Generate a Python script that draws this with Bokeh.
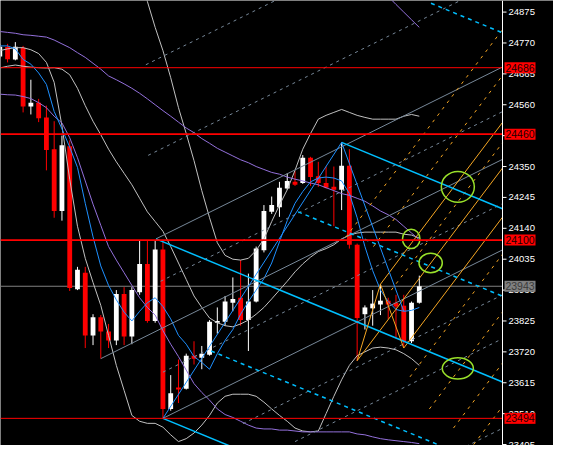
from bokeh.plotting import figure
from bokeh.models import Range1d, ColumnDataSource
from bokeh.core.properties import value
from bokeh.embed import file_html
from bokeh.resources import INLINE

# ---------------- data ----------------
bars = list(range(-1, 54))
opens = [24724, 24756, 24714, 24754, 24554, 24567, 24517, 24409, 24199, 24419,
         23933, 23989, 23776, 23838, 23789, 23759, 23917, 23772, 23923, 24019,
         23825, 24068, 23526, 23599, 23595, 23707, 23700, 23710, 23819, 23822,
         23887, 23904, 23828, 23891, 24065, 24196, 24212, 24275, 24298, 24294,
         24380, 24317, 24294, 24281, 24271, 24353, 24084, 23848, 23868, 23881,
         23894, 23887, 23877, 23756, 23887]
highs = [24767, 24767, 24773, 24760, 24645, 24580, 24557, 24504, 24455, 24439,
         24009, 24009, 23848, 23845, 23815, 23930, 23940, 23940, 24097, 24097,
         24097, 24101, 23641, 23694, 23714, 23756, 23740, 23828, 23871, 23910,
         23973, 24032, 23986, 24078, 24219, 24248, 24298, 24327, 24334, 24389,
         24383, 24366, 24350, 24350, 24432, 24409, 24088, 23878, 23930, 23950,
         23904, 23914, 23914, 23891, 23979]
lows = [24718, 24704, 24711, 24534, 24527, 24501, 24337, 24176, 24166, 23927,
        23930, 23733, 23743, 23697, 23733, 23743, 23743, 23746, 23914, 23819,
        23819, 23494, 23520, 23546, 23592, 23677, 23661, 23707, 23782, 23809,
        23858, 23809, 23723, 23888, 24058, 24189, 24179, 24271, 24284, 24291,
        24284, 24281, 24275, 24147, 24202, 24071, 23690, 23796, 23809, 23845,
        23832, 23766, 23733, 23750, 23884]
closes = [24757, 24715, 24757, 24554, 24567, 24514, 24406, 24199, 24422, 23937,
          23999, 23776, 23838, 23789, 23759, 23917, 23772, 23930, 24019, 23825,
          24068, 23526, 23579, 23592, 23707, 23697, 23714, 23822, 23825, 23891,
          23900, 23828, 23891, 24071, 24199, 24219, 24278, 24301, 24288, 24380,
          24314, 24294, 24278, 24271, 24353, 24084, 23835, 23871, 23884, 23894,
          23881, 23874, 23756, 23887, 23943]

ma_fast = [24760, 24760, 24750, 24714, 24698, 24668, 24629, 24537, 24478, 24416,
           24347, 24225, 24111, 24012, 23946, 23897, 23855, 23825, 23858, 23887,
           23904, 23874, 23832, 23776, 23746, 23704, 23684, 23661, 23714, 23759,
           23796, 23848, 23891, 23930, 23969, 24022, 24094, 24166, 24225, 24265,
           24298, 24311, 24314, 24311, 24301, 24258, 24176, 24078, 23996, 23930,
           23891, 23864, 23858, 23861, 23871]
purple_mid = [24809, 24806, 24803, 24798, 24796, 24793, 24790, 24780, 24767, 24754,
              24737, 24721, 24701, 24681, 24658, 24645, 24631, 24616, 24599, 24580,
              24560, 24540, 24521, 24501, 24481, 24465, 24445, 24429, 24412, 24399,
              24386, 24373, 24363, 24350, 24340, 24330, 24324, 24314, 24307, 24301,
              24294, 24288, 24278, 24268, 24258, 24252, 24242, 24232, 24216, 24199,
              24186, 24170, 24147, 24124, 24101]
purple_low = [24596, 24594, 24593, 24588, 24581, 24567, 24550, 24521, 24498, 24448,
              24380, 24301, 24222, 24150, 24078, 24032, 23989, 23946, 23904, 23871,
              23845, 23792, 23746, 23704, 23658, 23612, 23582, 23556, 23526, 23507,
              23497, 23484, 23471, 23461, 23458, 23458, 23454, 23454, 23451, 23448,
              23448, 23448, 23448, 23448, 23448, 23448, 23441, 23438, 23431, 23425,
              23421, 23418, 23415, 23412, 23408]
purple_up_bars = list(range(47, 54))
purple_up = [24980, 24954, 24928, 24901, 24875, 24849, 24823]
silver_mid = [24685, 24691, 24695, 24691, 24688, 24686, 24685, 24686, 24681, 24662,
              24616, 24557, 24504, 24458, 24409, 24366, 24327, 24288, 24242, 24196,
              24163, 24130, 24078, 24022, 23966, 23910, 23871, 23835, 23819, 23809,
              23805, 23815, 23828, 23848, 23871, 23900, 23930, 23960, 23992, 24019,
              24042, 24061, 24071, 24084, 24104, 24117, 24124, 24127, 24127, 24127,
              24127, 24127, 24120, 24117, 24107]
silver_low = [24744, 24750, 24754, 24754, 24747, 24734, 24704, 24636, 24488, 24307,
              24147, 24038, 23956, 23878, 23776, 23674, 23589, 23504, 23484, 23477,
              23477, 23464, 23438, 23415, 23425, 23444, 23471, 23504, 23546, 23569,
              23576, 23576, 23576, 23569, 23549, 23526, 23504, 23484, 23461, 23451,
              23448, 23451, 23510, 23569, 23625, 23674, 23707, 23720, 23733, 23736,
              23733, 23727, 23714, 23697, 23674]
silver_up_bars = list(range(17, 54))
silver_up = [24999, 24911, 24823, 24744, 24652, 24550, 24462, 24370, 24268, 24176,
             24091, 24048, 24035, 24032, 24038, 24065, 24104, 24163, 24219, 24271,
             24337, 24409, 24462, 24511, 24524, 24534, 24544, 24534, 24524, 24517,
             24511, 24511, 24511, 24511, 24521, 24527, 24521]

red_levels = [24686, 24460, 24100, 23494]
last_price = 23943
tick_values = [23405, 23510, 23615, 23720, 23825, 23930, 24035, 24140,
               24245, 24350, 24455, 24560, 24665, 24770, 24875]

zigzag_bars = [20, 43, 51]
zigzag_prices = [23494, 24432, 23858]
fork_bars = [45, 48, 51]
fork_prices = [23690, 23950, 23733]

cyan_slope = -10.9
cyan_solid = [(43, 24432), (19.1, 24104), (20, 23494)]
cyan_dashed = [(54.5, 24905), (37.4, 24196), (26.2, 23723)]
grey_slope = 13.1
grey_solid = [(19.1, 24104), (12, 23697), (20, 23494)]
grey_dashed = [(17.8, 24696), (18.1, 24388), (19.7, 23960), (20.0, 23651),
               (30.3, 23476), (37.0, 23415), (56.6, 23367)]
orange_slope = 35.0
orange_solid = [(45, 23690), (48, 23950), (51, 23733)]
orange_dashed = [(43.55, 24110), (47.1, 24078), (49.4, 23930), (51.8, 23635),
                 (54.3, 23526), (57.4, 23461), (60.0, 23405)]

circle_bars = [57.96, 51.96, 54.46, 57.96]
circle_prices = [24281, 24104, 24022, 23664]

# ---------------- layout ----------------
FIG_W, FIG_H = 553, 445
CHART_W = 502                      # width of the price area, the rest is the scale
X0, X1 = -0.91, 63.71              # bars visible in the price area
Y0, Y1 = 23401.7, 24914.4
BPP = (X1 - X0) / CHART_W          # bars per pixel
XR = X0 + FIG_W * BPP

p = figure(width=FIG_W, height=FIG_H, x_range=Range1d(X0, XR), y_range=Range1d(Y0, Y1),
           output_backend="svg", toolbar_location=None,
           x_axis_location=None, y_axis_location=None,
           background_fill_color="black", border_fill_color="black",
           min_border_left=0, min_border_top=0, min_border_bottom=0, min_border_right=0)
p.grid.visible = False
p.outline_line_color = None

# grey last-price line (behind candles)
p.segment(x0=[X0], y0=[last_price], x1=[X1], y1=[last_price], line_color="#808080", line_width=1)

# candles
up = [i for i in range(len(bars)) if closes[i] >= opens[i]]
dn = [i for i in range(len(bars)) if closes[i] < opens[i]]
for idx, col in ((up, "white"), (dn, "#ff0000")):
    src = ColumnDataSource(dict(
        x=[bars[i] for i in idx],
        hi=[highs[i] for i in idx], lo=[lows[i] for i in idx],
        top=[max(opens[i], closes[i]) for i in idx],
        bot=[min(opens[i], closes[i]) for i in idx]))
    p.segment(x0="x", y0="lo", x1="x", y1="hi", source=src, line_color=col, line_width=1)
    p.vbar(x="x", width=0.62, top="top", bottom="bot", source=src,
           fill_color=col, line_color=None)

# indicator curves
p.line(bars, silver_mid, line_color="#c0c0c0", line_width=1)
p.line(bars, silver_low, line_color="#c0c0c0", line_width=1)
p.line(silver_up_bars, silver_up, line_color="#c0c0c0", line_width=1)
p.line(bars, purple_mid, line_color="#9370db", line_width=1)
p.line(bars, purple_low, line_color="#9370db", line_width=1)
p.line(purple_up_bars, purple_up, line_color="#9370db", line_width=1)
p.line(bars, ma_fast, line_color="#1e90ff", line_width=1)

# drawing tools, all ending at the price scale
def rays(starts, slope, end=X1):
    return dict(x0=[s[0] for s in starts], y0=[s[1] for s in starts],
                x1=[end for s in starts],
                y1=[s[1] + slope * (end - s[0]) for s in starts])

def add_rays(starts, slope, color, width, dash="solid"):
    p.segment(source=ColumnDataSource(rays(starts, slope)), x0="x0", y0="y0", x1="x1", y1="y1",
              line_color=color, line_width=width, line_dash=dash)

add_rays(grey_dashed, grey_slope, "#778899", 1, "3 4")
add_rays(grey_solid, grey_slope, "#778899", 1)
add_rays(orange_dashed, orange_slope, "#f5a623", 1, "3 5")
add_rays(orange_solid, orange_slope, "#f5a623", 1)
add_rays(cyan_dashed, cyan_slope, "#00bfff", 1.5, "4 4")
add_rays(cyan_solid, cyan_slope, "#00bfff", 1.5)
p.line(fork_bars, fork_prices, line_color="#f5a623", line_width=1)
p.line(zigzag_bars, zigzag_prices, line_color="#1e90ff", line_width=1)

p.ellipse(x=circle_bars, y=circle_prices, width=[4.25, 2.25, 3.0, 4.0], height=[105, 66, 66, 72],
          fill_color=None, line_color="#99e02a", line_width=1.5)

# horizontal levels across the price area
p.segment(x0=[X0] * len(red_levels), y0=red_levels, x1=[X1] * len(red_levels), y1=red_levels,
          line_color="#ff0000", line_width=[1, 1.6, 1.6, 1])

# price scale on the right
p.segment(x0=[X1], y0=[Y0], x1=[X1], y1=[Y1], line_color="white", line_width=1)
p.segment(x0=[X1] * len(tick_values), y0=tick_values,
          x1=[X1 + 4 * BPP] * len(tick_values), y1=tick_values,
          line_color="white", line_width=1)
p.text(x=[X1 + 6 * BPP] * len(tick_values), y=tick_values, text=[str(t) for t in tick_values],
       text_color="white", text_font=value("Liberation Sans"), text_font_size="9.5px",
       text_baseline="middle", text_align="left")

# price boxes on the scale
box_prices = red_levels + [last_price]
box_fill = ["#ff0000"] * len(red_levels) + ["#808080"]
box_text = ["#1a0000"] * len(red_levels) + ["#3a3a3a"]
box_x = [X1 + 17.5 * BPP] * len(box_prices)
p.rect(x=box_x, y=box_prices, width=31, height=11, width_units="screen", height_units="screen",
       fill_color=box_fill, line_color=None)
p.text(x=box_x, y=box_prices, text=[str(b) for b in box_prices], text_color=box_text,
       text_font=value("Liberation Sans"), text_font_size="10.5px",
       text_baseline="middle", text_align="center")

open("out.html", "w").write(file_html(p, INLINE))
